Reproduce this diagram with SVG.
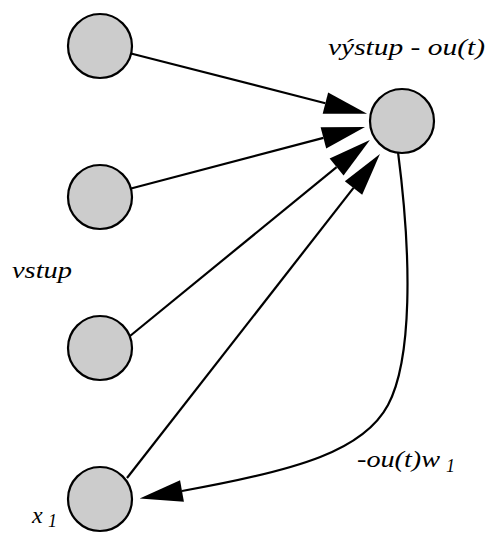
<svg xmlns="http://www.w3.org/2000/svg" width="489" height="533" viewBox="0 0 489 533">
<style>
.node{fill:#cccccc;stroke:#000;stroke-width:2.2}
.edge{fill:none;stroke:#000;stroke-width:2.2}
.lbl{font-family:"Liberation Serif","Times New Roman",serif;font-style:italic;font-size:24px;fill:#000}
.sub{font-family:"Liberation Serif","Times New Roman",serif;font-style:italic;font-size:18px;fill:#000}
</style>
<defs>
<marker id="ah" markerUnits="userSpaceOnUse" markerWidth="44" markerHeight="24" refX="0" refY="11" orient="auto" overflow="visible">
<path d="M0,0 L43,11 L0,22 Z" fill="#000"/>
</marker>
</defs>
<rect width="489" height="533" fill="#fff"/>
<g id="connectors">
<line class="edge" x1="131" y1="53.5" x2="325.4" y2="103.2" marker-end="url(#ah)"/>
<line class="edge" x1="131" y1="188.5" x2="323.4" y2="137.9" marker-end="url(#ah)"/>
<line class="edge" x1="130" y1="336" x2="336.6" y2="167.1" marker-end="url(#ah)"/>
<line class="edge" x1="127" y1="478" x2="353.5" y2="187.9" marker-end="url(#ah)"/>
<path class="edge" d="M398,152 C412,260 412,360 388,405 C364,450 300,470 182,491" marker-end="url(#ah)"/>
</g>
<g id="in1"><circle class="node" cx="100" cy="46" r="32"/></g>
<g id="in2"><circle class="node" cx="100" cy="197" r="32"/></g>
<g id="in3"><circle class="node" cx="100" cy="348" r="32"/></g>
<g id="in4"><circle class="node" cx="100" cy="499" r="32"/></g>
<g id="out"><circle class="node" cx="402" cy="121" r="32"/></g>
<g id="labels">
<text class="lbl" x="328" y="55" textLength="157" lengthAdjust="spacingAndGlyphs">výstup - ou(t)</text>
<text class="lbl" x="12" y="278" textLength="60" lengthAdjust="spacingAndGlyphs">vstup</text>
<text class="lbl" x="357" y="467" textLength="83" lengthAdjust="spacingAndGlyphs">-ou(t)w</text>
<text class="sub" x="446" y="472">1</text>
<text class="lbl" x="32" y="523">x</text>
<text class="sub" x="48" y="527">1</text>
</g>
</svg>
